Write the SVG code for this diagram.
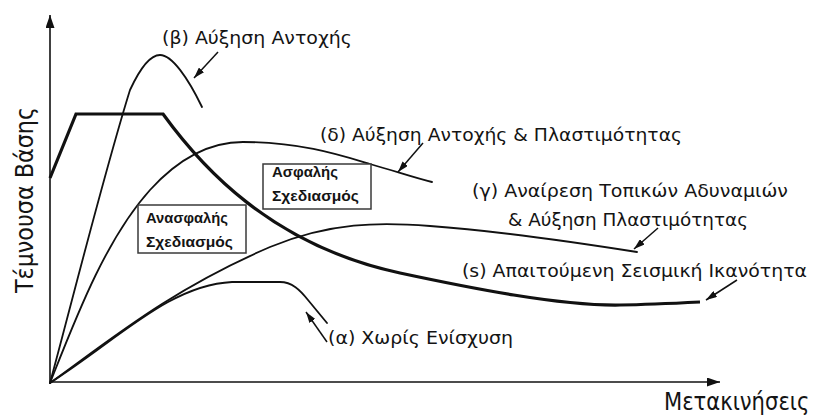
<svg xmlns="http://www.w3.org/2000/svg" width="818" height="419" viewBox="0 0 818 419">
<style>
.lbl{font-family:"DejaVu Sans","Noto Sans",sans-serif;font-size:18px;fill:#141414;}
.big{font-size:24px;}
.box{fill:#fff;stroke:#3a3a3a;stroke-width:1.5;}
.btxt{font-family:"Liberation Sans",Arial,sans-serif;font-weight:bold;font-size:15px;fill:#141414;}
.thin{fill:none;stroke:#111;stroke-width:1.8;stroke-linejoin:round;stroke-linecap:round;}
.thick{fill:none;stroke:#111;stroke-width:3.2;stroke-linejoin:miter;}
.axis{fill:none;stroke:#111;stroke-width:1.6;}
.arr{fill:none;stroke:#111;stroke-width:1.5;marker-end:url(#ah);}
</style>
<defs>
<marker id="ah" markerWidth="11" markerHeight="7" refX="11" refY="3.5" orient="auto" markerUnits="userSpaceOnUse"><path d="M0,0 L11,3.5 L0,7 z" fill="#111"/></marker>
<marker id="axh" markerWidth="13" markerHeight="9" refX="13" refY="4.5" orient="auto" markerUnits="userSpaceOnUse"><path d="M0,0 L13,4.5 L0,9 z" fill="#111"/></marker>
</defs>
<rect width="818" height="419" fill="#fff"/>
<g id="axes">
<path class="axis" d="M50,383 L50,15" marker-end="url(#axh)"/>
<path class="axis" d="M50,382 L720,382" marker-end="url(#axh)"/>
<text class="lbl big" transform="translate(33,293) rotate(-90)" textLength="186" lengthAdjust="spacingAndGlyphs">Τέμνουσα Βάσης</text>
<text class="lbl big" transform="translate(664,410) scale(0.88,1)" x="0" y="0">Μετακινήσεις</text>
</g>
<g id="curve-s">
<path class="thick" d="M50,178 L76,114 L163,114 C200,165 270,245 400,273 C470,288 560,306 620,305 C650,304.5 680,303 700,302"/>
<text class="lbl" x="462" y="277" textLength="345" lengthAdjust="spacingAndGlyphs">(s) Απαιτούμενη Σεισμική Ικανότητα</text>
</g>
<g id="curve-beta">
<path class="thin" d="M50,383 C75,290 105,170 130,90 C143,62 153,55 160,55 C172,55 188,78 202,107"/>
<text class="lbl" x="162" y="44" textLength="190" lengthAdjust="spacingAndGlyphs">(β) Αύξηση Αντοχής</text>
</g>
<g id="curve-delta">
<path class="thin" d="M50,383 C75,320 105,240 150,190 C180,157 210,142 243,142 C300,142 340,155 370,164 C395,171 415,178 432,182"/>
<text class="lbl" x="320" y="141" textLength="362" lengthAdjust="spacingAndGlyphs">(δ) Αύξηση Αντοχής &amp; Πλαστιμότητας</text>
</g>
<g id="curve-gamma">
<path class="thin" d="M50,383 C110,340 170,290 270,247 C330,222 380,222 430,226 C500,231 580,243 637,252"/>
<text class="lbl" x="472" y="197" textLength="316" lengthAdjust="spacingAndGlyphs">(γ) Αναίρεση Τοπικών Αδυναμιών</text>
<text class="lbl" x="508" y="226" textLength="240" lengthAdjust="spacingAndGlyphs">&amp; Αύξηση Πλαστιμότητας</text>
</g>
<g id="curve-alpha">
<path class="thin" d="M50,383 C120,338 170,285 232,282 L280,282 C292,282 300,290 308,300 L327,323"/>
<text class="lbl" x="328" y="344" textLength="185" lengthAdjust="spacingAndGlyphs">(α) Χωρίς Ενίσχυση</text>
</g>
<g id="box-unsafe">
<rect class="box" x="138" y="205" width="108" height="48"/>
<text class="btxt" x="146" y="223" textLength="82" lengthAdjust="spacingAndGlyphs">Ανασφαλής</text>
<text class="btxt" x="146" y="247" textLength="87" lengthAdjust="spacingAndGlyphs">Σχεδιασμός</text>
</g>
<g id="box-safe">
<rect class="box" x="263" y="164" width="108" height="45"/>
<text class="btxt" x="272" y="177" textLength="66" lengthAdjust="spacingAndGlyphs">Ασφαλής</text>
<text class="btxt" x="272" y="201" textLength="87" lengthAdjust="spacingAndGlyphs">Σχεδιασμός</text>
</g>
<g id="connectors">
<path class="arr" d="M218,52 L194,78"/>
<path class="arr" d="M423,143 L398,172"/>
<path class="arr" d="M658,228 L634,249"/>
<path class="arr" d="M737,280 L706,300"/>
<path class="arr" d="M327,342 L306,312"/>
</g>
</svg>
